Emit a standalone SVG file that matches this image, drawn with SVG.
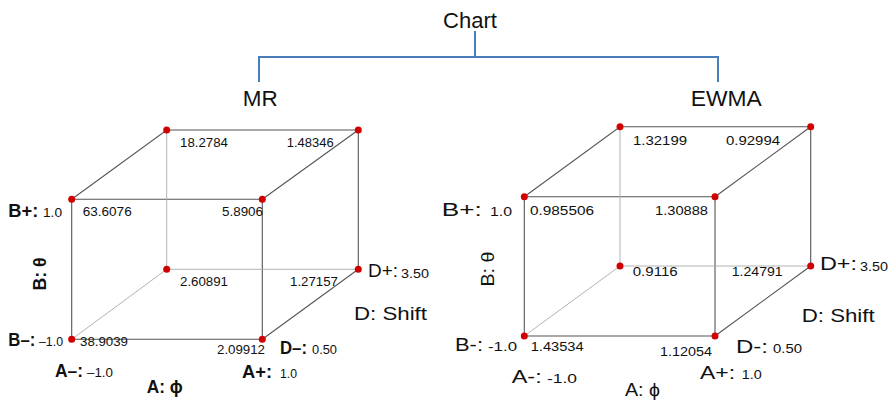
<svg xmlns="http://www.w3.org/2000/svg" width="896" height="404" viewBox="0 0 896 404">
<style>
text{font-family:"Liberation Sans",Arial,sans-serif;fill:#111}
.t{font-size:22px}
.n{font-size:12.5px}
.lb{font-size:17.5px;font-weight:bold}
.lr{font-size:18px}
.s{font-size:12.5px}
.sh{font-size:19px}
.tree{stroke:#4a7ebb;stroke-width:2;fill:none}
.e{stroke:#555;stroke-width:1.1;fill:none}
.h{stroke:#aaa;stroke-width:0.9;fill:none}
.d{fill:#d00000}
</style>
<g id="connectors">
<path class="tree" d="M475,31 V57 M259,82 V57 H718 V82"/>
<g id="mr-cube-edges">
<path class="e" d="M71.7,199.3 H262.3 V339.3 H71.7 Z"/>
<path class="e" d="M71.7,199.3 L166.7,130 H358.3 V269.3 M262.3,199.3 L358.3,130 M262.3,339.3 L358.3,269.3"/>
<path class="h" d="M166.7,130 V269.3 H358.3 M166.7,269.3 L71.7,339.3"/>
</g>
<g id="ewma-cube-edges">
<path class="e" d="M524.3,196.7 H715 V336 H524.3 Z"/>
<path class="e" d="M524.3,196.7 L620,126.7 H810.7 V266 M715,196.7 L810.7,126.7 M715,336 L810.7,266"/>
<path class="h" d="M620,126.7 V266 H810.7 M620,266 L524.3,336"/>
</g>
</g>
<g id="chart"><text class="t" x="470" y="28.3" text-anchor="middle">Chart</text></g>
<g id="mr"><text class="t" x="242.7" y="106" textLength="35" lengthAdjust="spacingAndGlyphs">MR</text></g>
<g id="ewma"><text class="t" x="690.7" y="106" textLength="71" lengthAdjust="spacingAndGlyphs">EWMA</text></g>
<g id="mr-cube">
<circle class="d" cx="166.7" cy="130" r="3.5"/>
<circle class="d" cx="358.3" cy="130" r="3.5"/>
<circle class="d" cx="71.7" cy="199.3" r="3.5"/>
<circle class="d" cx="262.3" cy="199.3" r="3.5"/>
<circle class="d" cx="166.7" cy="269.3" r="3.5"/>
<circle class="d" cx="358.3" cy="269.3" r="3.5"/>
<circle class="d" cx="71.7" cy="339.3" r="3.5"/>
<circle class="d" cx="262.3" cy="339.3" r="3.5"/>
<text class="n" x="180" y="146.7" textLength="48" lengthAdjust="spacingAndGlyphs">18.2784</text>
<text class="n" x="286.7" y="146.7" textLength="47" lengthAdjust="spacingAndGlyphs">1.48346</text>
<text class="n" x="82.7" y="216" textLength="49" lengthAdjust="spacingAndGlyphs">63.6076</text>
<text class="n" x="222" y="216" textLength="41" lengthAdjust="spacingAndGlyphs">5.8906</text>
<text class="n" x="180" y="286" textLength="48" lengthAdjust="spacingAndGlyphs">2.60891</text>
<text class="n" x="290" y="286" textLength="48" lengthAdjust="spacingAndGlyphs">1.27157</text>
<text class="n" x="80" y="346" textLength="48" lengthAdjust="spacingAndGlyphs">38.9039</text>
<text class="n" x="217" y="354.3" textLength="48" lengthAdjust="spacingAndGlyphs">2.09912</text>
<text class="lb" x="8.3" y="216.5" textLength="30" lengthAdjust="spacingAndGlyphs">B+:</text>
<text class="s" x="43" y="216.5" textLength="19" lengthAdjust="spacingAndGlyphs">1.0</text>
<text class="lb" x="8.3" y="346" textLength="27" lengthAdjust="spacingAndGlyphs">B–:</text>
<text class="s" x="39" y="346" textLength="24" lengthAdjust="spacingAndGlyphs">–1.0</text>
<text class="lb" x="55" y="377" textLength="28" lengthAdjust="spacingAndGlyphs">A–:</text>
<text class="s" x="87" y="377" textLength="26" lengthAdjust="spacingAndGlyphs">–1.0</text>
<text class="lb" x="242" y="378" textLength="30" lengthAdjust="spacingAndGlyphs">A+:</text>
<text class="s" x="280" y="378" textLength="17" lengthAdjust="spacingAndGlyphs">1.0</text>
<text class="lb" x="280" y="354.3" textLength="27" lengthAdjust="spacingAndGlyphs">D–:</text>
<text class="s" x="312" y="354.3" textLength="25" lengthAdjust="spacingAndGlyphs">0.50</text>
<text class="lr" x="368" y="277" textLength="30" lengthAdjust="spacingAndGlyphs">D+:</text>
<text class="s" x="401" y="278" textLength="28" lengthAdjust="spacingAndGlyphs">3.50</text>
<text class="sh" x="354" y="320" textLength="73" lengthAdjust="spacingAndGlyphs">D: Shift</text>
<text class="lb" x="146.7" y="392.7" textLength="36" lengthAdjust="spacingAndGlyphs">A: ϕ</text>
<text class="lb" x="0" y="0" text-anchor="middle" textLength="33" lengthAdjust="spacingAndGlyphs" style="font-size:19px" transform="translate(46,274) rotate(-90)">B: θ</text>
</g>
<g id="ewma-cube">
<circle class="d" cx="620" cy="126.7" r="3.5"/>
<circle class="d" cx="810.7" cy="126.7" r="3.5"/>
<circle class="d" cx="524.3" cy="196.7" r="3.5"/>
<circle class="d" cx="715" cy="196.7" r="3.5"/>
<circle class="d" cx="620" cy="266" r="3.5"/>
<circle class="d" cx="810.7" cy="266" r="3.5"/>
<circle class="d" cx="524.3" cy="336" r="3.5"/>
<circle class="d" cx="715" cy="336" r="3.5"/>
<text class="n" x="633" y="145" textLength="54" lengthAdjust="spacingAndGlyphs">1.32199</text>
<text class="n" x="726" y="145" textLength="54" lengthAdjust="spacingAndGlyphs">0.92994</text>
<text class="n" x="530" y="215" textLength="64" lengthAdjust="spacingAndGlyphs">0.985506</text>
<text class="n" x="655" y="215" textLength="53" lengthAdjust="spacingAndGlyphs">1.30888</text>
<text class="n" x="632.7" y="276" textLength="45" lengthAdjust="spacingAndGlyphs">0.9116</text>
<text class="n" x="731.7" y="276" textLength="51" lengthAdjust="spacingAndGlyphs">1.24791</text>
<text class="n" x="530.7" y="350.7" textLength="53" lengthAdjust="spacingAndGlyphs">1.43534</text>
<text class="n" x="660" y="356" textLength="52" lengthAdjust="spacingAndGlyphs">1.12054</text>
<text class="lr" x="441.7" y="216" textLength="40" lengthAdjust="spacingAndGlyphs">B+:</text>
<text class="s" x="490" y="216" textLength="22" lengthAdjust="spacingAndGlyphs">1.0</text>
<text class="lr" x="455" y="351" textLength="28" lengthAdjust="spacingAndGlyphs">B-:</text>
<text class="s" x="488" y="351" textLength="29" lengthAdjust="spacingAndGlyphs">-1.0</text>
<text class="lr" x="511.7" y="383.3" textLength="30" lengthAdjust="spacingAndGlyphs">A-:</text>
<text class="s" x="547" y="383.3" textLength="30" lengthAdjust="spacingAndGlyphs">-1.0</text>
<text class="lr" x="625" y="396" textLength="35" lengthAdjust="spacingAndGlyphs">A: ϕ</text>
<text class="lr" x="700" y="379" textLength="35" lengthAdjust="spacingAndGlyphs">A+:</text>
<text class="s" x="741.7" y="379" textLength="20" lengthAdjust="spacingAndGlyphs">1.0</text>
<text class="lr" x="736" y="353" textLength="32" lengthAdjust="spacingAndGlyphs">D-:</text>
<text class="s" x="773" y="353" textLength="29" lengthAdjust="spacingAndGlyphs">0.50</text>
<text class="lr" x="820" y="270" textLength="37" lengthAdjust="spacingAndGlyphs">D+:</text>
<text class="s" x="860" y="271" textLength="28" lengthAdjust="spacingAndGlyphs">3.50</text>
<text class="sh" x="801.7" y="321.7" textLength="73" lengthAdjust="spacingAndGlyphs">D: Shift</text>
<text class="lr" x="0" y="0" text-anchor="middle" textLength="35" lengthAdjust="spacingAndGlyphs" style="font-size:19px" transform="translate(494,269) rotate(-90)">B: θ</text>
</g>
</svg>
